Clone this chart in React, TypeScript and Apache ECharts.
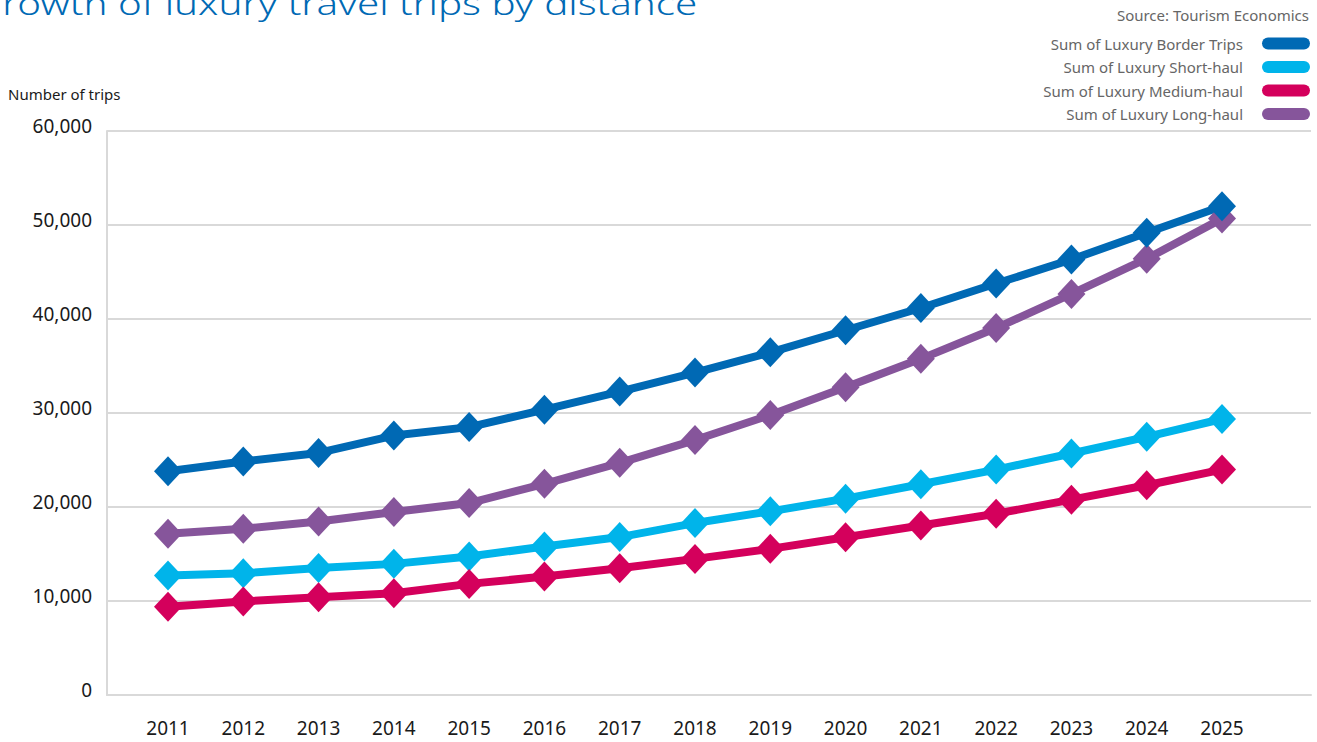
import React, { useEffect, useRef } from "react";
import * as echarts from "echarts";

const years = ["2011", "2012", "2013", "2014", "2015", "2016", "2017", "2018", "2019", "2020", "2021", "2022", "2023", "2024", "2025"];
const borderTrips = [23800, 24850, 25750, 27600, 28500, 30350, 32280, 34300, 36450, 38800, 41170, 43770, 46330, 49180, 52000];
const shortHaul = [12700, 12950, 13500, 13950, 14730, 15800, 16800, 18290, 19540, 20890, 22420, 23980, 25690, 27470, 29360];
const mediumHaul = [9400, 9950, 10400, 10830, 11820, 12600, 13480, 14480, 15550, 16790, 18040, 19290, 20780, 22310, 23980];
const longHaul = [17150, 17680, 18460, 19460, 20420, 22470, 24700, 27120, 29780, 32740, 35760, 39040, 42670, 46410, 50680];
const seriesNames = ["Sum of Luxury Border Trips", "Sum of Luxury Short-haul", "Sum of Luxury Medium-haul", "Sum of Luxury Long-haul"];
const seriesColors = ["#0069b4", "#00b4ea", "#d4005c", "#86559b"];
const yTicks = { min: 0, max: 60000, interval: 10000 };

const TEXT = "#1a1a1a";
const GRIDC = "#d9d9d9";
const FONT = "Noto Sans";
const pill = "path://M6,0 H42 A6,6 0 0 1 42,12 H6 A6,6 0 0 1 6,0 Z";

export default function App() {
  const ref = useRef<HTMLDivElement>(null);
  useEffect(() => {
    document.body.style.margin = "0";
    const chart = echarts.init(ref.current!, null, { renderer: "svg" });
    const valuesByName: Record<string, number[]> = {
      [seriesNames[0]]: borderTrips,
      [seriesNames[1]]: shortHaul,
      [seriesNames[2]]: mediumHaul,
      [seriesNames[3]]: longHaul,
    };
    const drawOrder = [1, 2, 3, 0];
    chart.setOption({
      animation: false,
      textStyle: { fontFamily: FONT },
      grid: [
        { left: 107, right: 6, top: 131, bottom: 47 },
        { left: 168, right: 95, top: 131, bottom: 47 },
      ],
      xAxis: [
        {
          gridIndex: 0, type: "value", min: 0, max: 1,
          axisLine: { show: true, lineStyle: { color: GRIDC, width: 2 } },
          axisTick: { show: false }, axisLabel: { show: false }, splitLine: { show: false },
        },
        {
          gridIndex: 1, type: "category", data: years, boundaryGap: false,
          axisLine: { show: false }, axisTick: { show: false },
          axisLabel: { color: TEXT, fontSize: 19, margin: 23, fontFamily: FONT },
          splitLine: { show: false },
        },
      ],
      yAxis: [
        {
          gridIndex: 0, type: "value", min: yTicks.min, max: yTicks.max, interval: yTicks.interval,
          axisLine: { show: true, lineStyle: { color: GRIDC, width: 2 } },
          axisTick: { show: false },
          axisLabel: {
            color: TEXT, fontSize: 19, margin: 15, fontFamily: FONT,
            verticalAlign: "bottom", lineHeight: 10,
            formatter: (v: number) => v.toLocaleString("en-US"),
          },
          splitLine: { show: true, lineStyle: { color: GRIDC, width: 2 } },
        },
        {
          gridIndex: 1, type: "value", min: yTicks.min, max: yTicks.max, show: false,
          splitLine: { show: false },
        },
      ],
      legend: {
        data: seriesNames,
        orient: "vertical",
        align: "right",
        right: 7,
        top: 36,
        padding: 0,
        itemWidth: 48,
        itemHeight: 12,
        itemGap: 8.5,
        icon: pill,
        itemStyle: { borderWidth: 0 },
        textStyle: { color: "#666", fontSize: 15, fontFamily: FONT, padding: [0, 14, 0, 0] },
      },
      graphic: [
        {
          type: "text", left: -27, top: -12,
          scaleX: 1.3,
          style: { text: "Growth of luxury travel trips by distance", fill: "#0069b4", fontSize: 31, fontFamily: FONT, fontWeight: 300 },
        },
        {
          type: "text", x: 1309, y: 15,
          style: { text: "Source: Tourism Economics", fill: "#666", fontSize: 15, fontFamily: FONT, align: "right", verticalAlign: "middle" },
        },
        {
          type: "text", x: 8, y: 94,
          style: { text: "Number of trips", fill: TEXT, fontSize: 15, fontFamily: FONT, align: "left", verticalAlign: "middle" },
        },
      ],
      series: drawOrder.map((i) => ({
        name: seriesNames[i],
        type: "line",
        xAxisIndex: 1,
        yAxisIndex: 1,
        data: valuesByName[seriesNames[i]],
        symbol: "diamond",
        symbolSize: [28, 30],
        lineStyle: { width: 8, color: seriesColors[i] },
        itemStyle: { color: seriesColors[i], borderWidth: 0 },
        color: seriesColors[i],
      })),
    });
    return () => chart.dispose();
  }, []);
  return <div ref={ref} style={{ width: 1317, height: 742 }} />;
}
